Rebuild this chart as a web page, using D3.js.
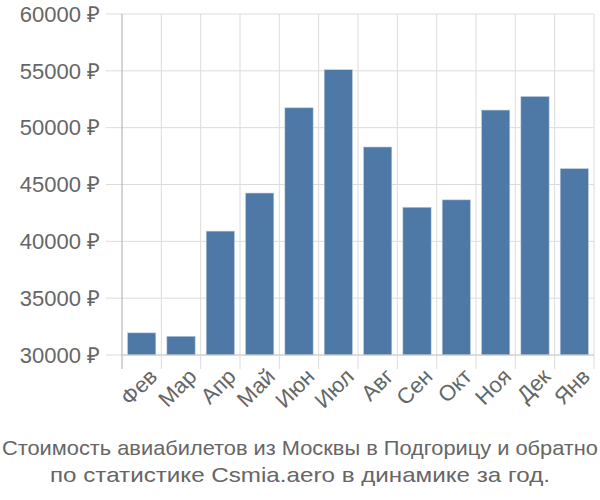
<!DOCTYPE html>
<html><head><meta charset="utf-8">
<script src="https://cdn.jsdelivr.net/npm/d3@7/dist/d3.min.js"></script>
<style>body{margin:0;background:#fff}svg{font-family:"Liberation Sans",Arial,sans-serif}</style>
</head><body><svg id="c" width="600" height="500"></svg>
<script>
const months = ["Фев","Мар","Апр","Май","Июн","Июл","Авг","Сен","Окт","Ноя","Дек","Янв"];
const prices = [31950, 31650, 40900, 44250, 51750, 55100, 48300, 43000, 43650, 51550, 52750, 46400];
const yTicks = [30000, 35000, 40000, 45000, 50000, 55000, 60000];
const titleLines = ["Стоимость авиабилетов из Москвы в Подгорицу и обратно","по статистике Csmia.aero в динамике за год."];

const svg = d3.select("#c");
const L = 122, R = 594, T = 14, B = 355;
const x = d3.scaleBand().domain(months).range([L, R]).paddingInner(0.28).paddingOuter(0.14);
const y = d3.scaleLinear().domain([30000, 60000]).range([B, T]);
const step = x.step();

// horizontal grid
svg.append("g").selectAll("line").data(yTicks).join("line")
  .attr("x1", 106).attr("x2", R).attr("y1", d => y(d)).attr("y2", d => y(d))
  .attr("stroke", "#dcdcdc").attr("stroke-width", 1);
// vertical grid
const vx = d3.range(months.length + 1).map(i => L + i * step);
svg.append("g").selectAll("line").data(vx.slice(1)).join("line")
  .attr("x1", d => d).attr("x2", d => d).attr("y1", T).attr("y2", B + 14)
  .attr("stroke", "#dcdcdc").attr("stroke-width", 1);

// bars
svg.append("g").selectAll("rect").data(prices).join("rect")
  .attr("x", (d, i) => x(months[i])).attr("width", x.bandwidth())
  .attr("y", d => y(d)).attr("height", d => B - y(d))
  .attr("fill", "#4e79a7").attr("stroke", "#c5d3e3").attr("stroke-width", 0.6);

// y axis line
svg.append("line").attr("x1", L).attr("x2", L).attr("y1", T).attr("y2", B + 14)
  .attr("stroke", "#aaa").attr("stroke-width", 1);
// x axis line
svg.append("line").attr("x1", L).attr("x2", R).attr("y1", B).attr("y2", B)
  .attr("stroke", "#ccc").attr("stroke-width", 1);

// y labels
svg.append("g").selectAll("text").data(yTicks).join("text")
  .attr("x", 100).attr("y", d => y(d)).attr("dy", "0.35em")
  .attr("text-anchor", "end").attr("font-size", 22).attr("fill", "#666")
  .text(d => d + " ₽");

// x labels
svg.append("g").selectAll("text").data(months).join("text")
  .attr("transform", d => `translate(${x(d) + x.bandwidth() / 2 + 6},${B + 12}) rotate(-45)`)
  .attr("text-anchor", "end").attr("dy", "0.7em").attr("font-size", 22).attr("fill", "#666")
  .text(d => d);

// title
svg.append("g").selectAll("text").data(titleLines).join("text")
  .attr("x", 300).attr("y", (d, i) => 455 + i * 27)
  .attr("text-anchor", "middle").attr("font-size", 21).attr("fill", "#666")
  .attr("textLength", (d, i) => i === 0 ? 596 : 500).attr("lengthAdjust", "spacingAndGlyphs")
  .text(d => d);
</script></body></html>
